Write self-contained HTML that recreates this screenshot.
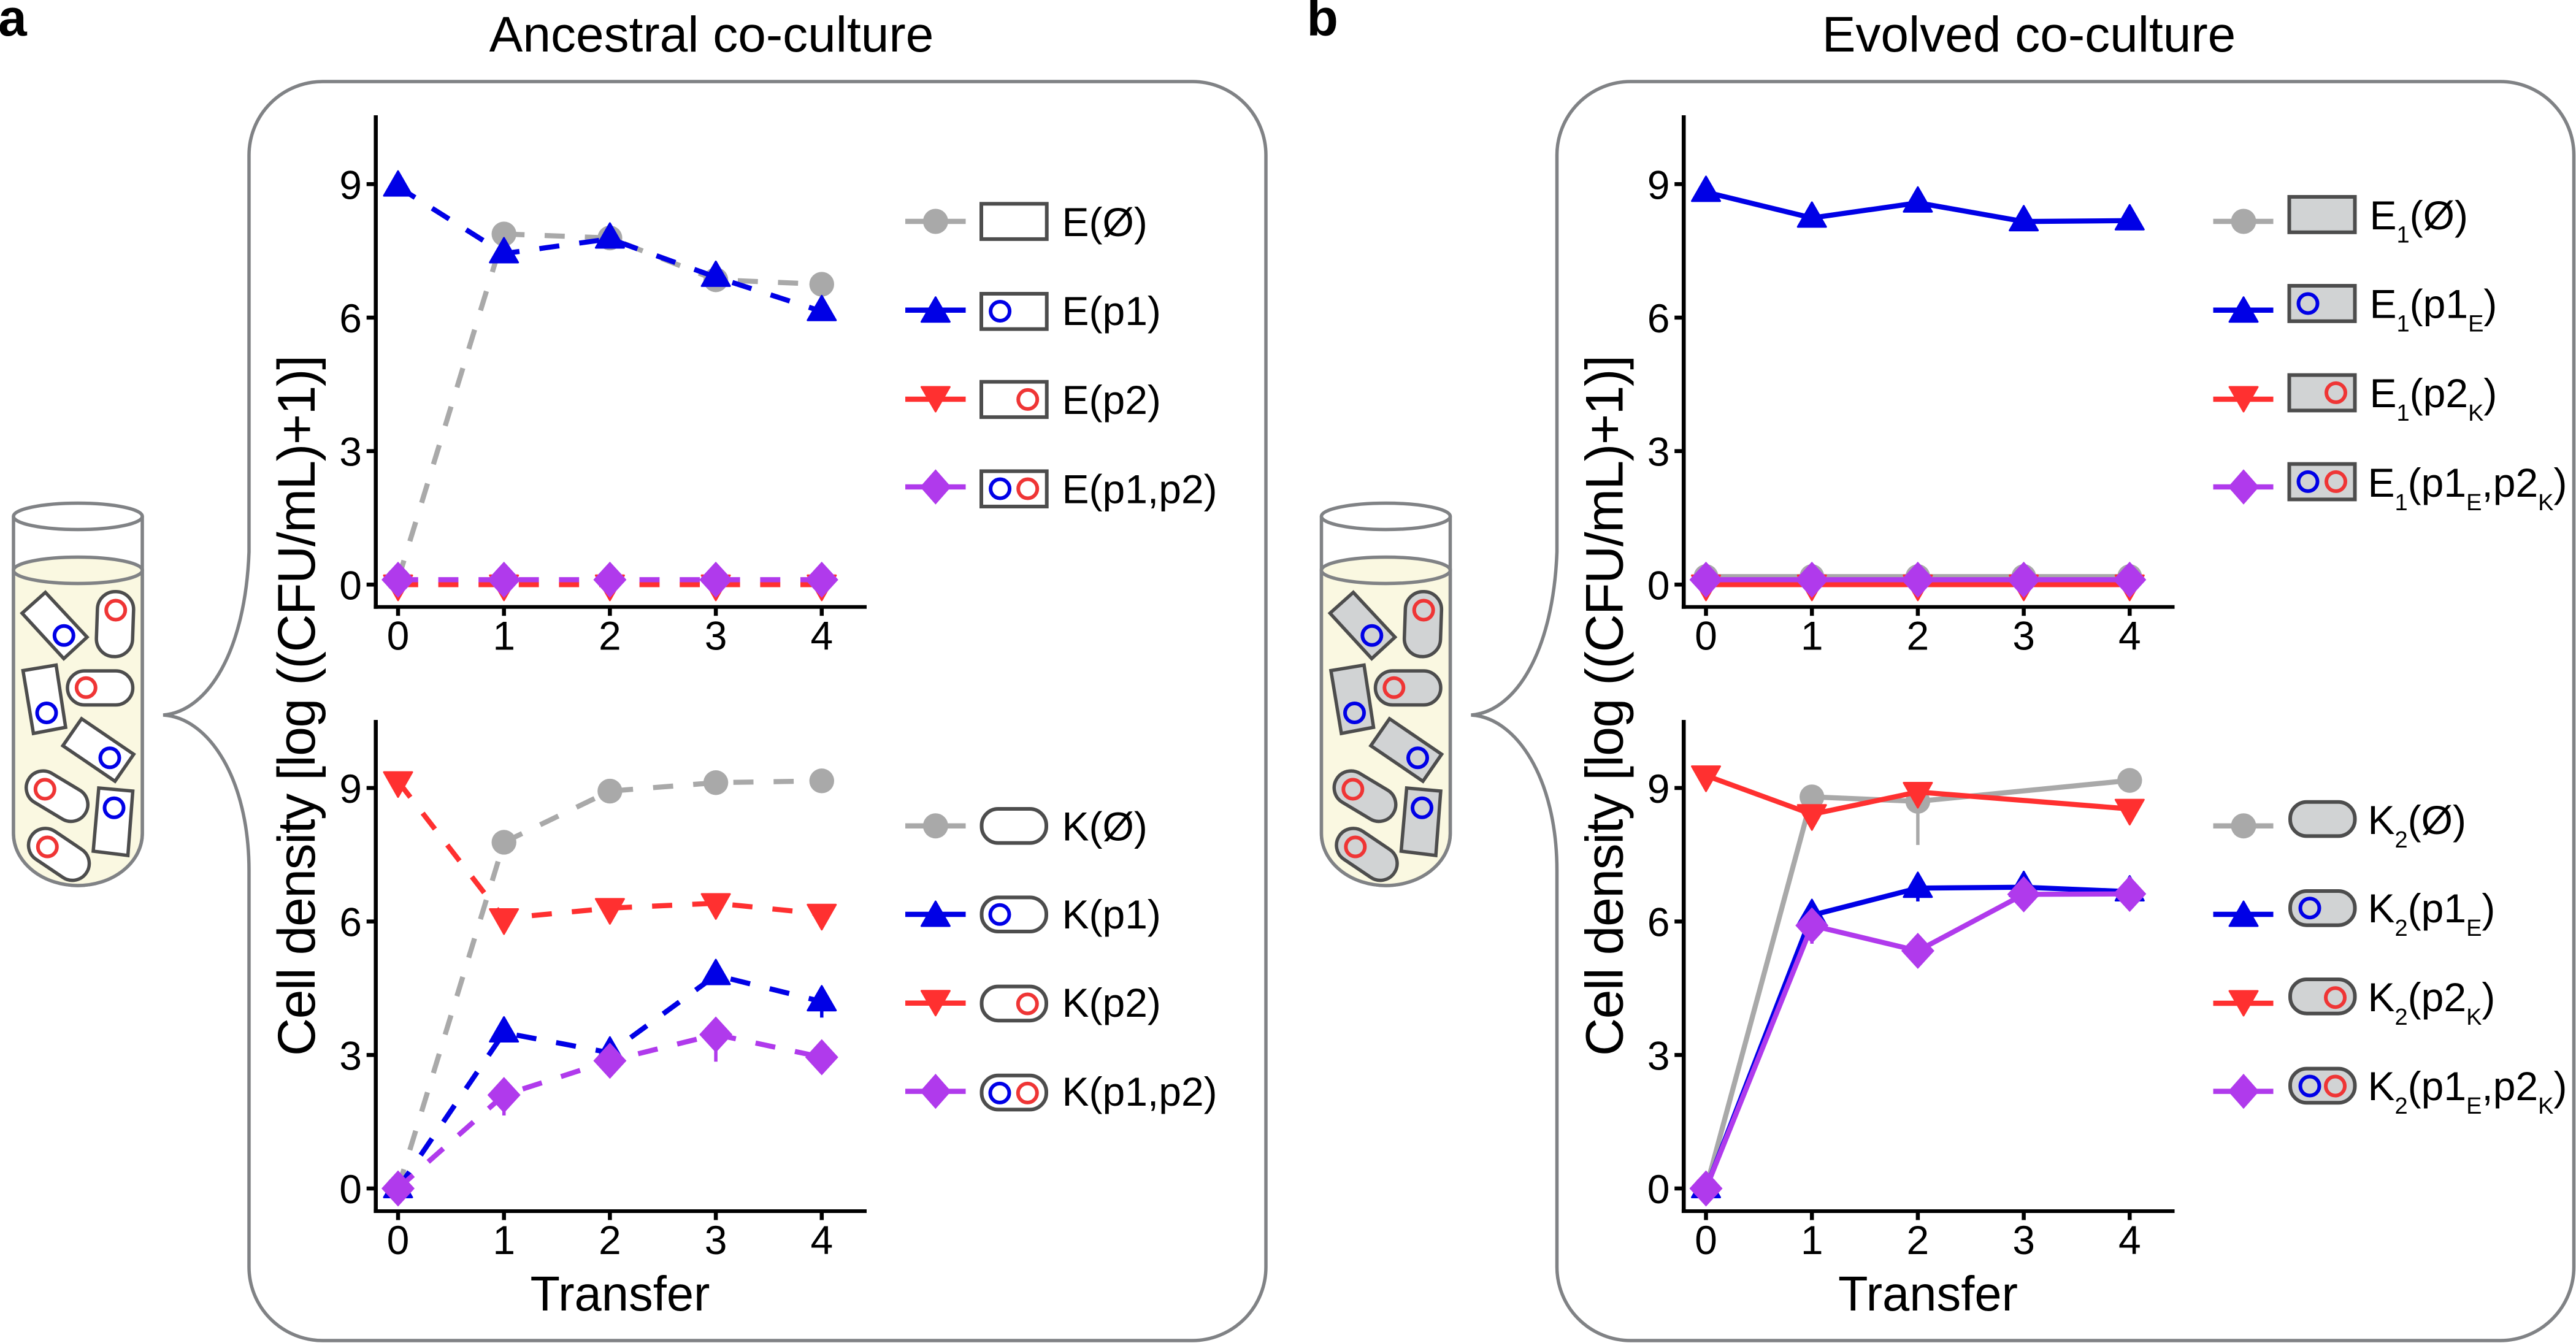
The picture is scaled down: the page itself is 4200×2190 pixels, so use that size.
<!DOCTYPE html>
<html lang="en">
<head>
<meta charset="utf-8">
<title>Ancestral and evolved co-culture cell density</title>
<style>
html,body{margin:0;padding:0;background:#fff;width:4200px;height:2190px;overflow:hidden}
svg{display:block}
text{font-family:"Liberation Sans",Arial,sans-serif;fill:#000}
.lg{font-size:66px}
.sub{font-size:38px}
.title{font-size:82px;text-anchor:middle}
.axt{font-size:79.5px}
.pl{font-weight:bold;font-size:84px}
.panel{fill:none;stroke:#808285;stroke-width:5.5}
.glass{stroke:#808285;stroke-width:5.5}
.c{fill:#fff;stroke:#4d4d4d;stroke-width:5.5}
.b2 .c{fill:#d1d3d4}
.bl{fill:none;stroke:#0000e6;stroke-width:6}
.rd{fill:none;stroke:#ef3535;stroke-width:6}
.box{stroke:#4d4d4d;stroke-width:6;fill:#fff}
.b2 .box{fill:#d1d3d4}
.gr-l{stroke:#a9a9a9;stroke-width:8.5}
.bu-l{stroke:#0000e6;stroke-width:8.5}
.re-l{stroke:#ff3030;stroke-width:8.5}
.pu-l{stroke:#b03aec;stroke-width:8.5}
.gr-m{fill:#a9a9a9}
.bu-m{fill:#0000e6;stroke:#0000e6;stroke-width:3;stroke-linejoin:round}
.re-m{fill:#ff3030;stroke:#ff3030;stroke-width:3;stroke-linejoin:round}
.pu-m{fill:#b03aec}
</style>
</head>
<body>
<svg xmlns="http://www.w3.org/2000/svg" width="4200" height="2190" viewBox="0 0 4200 2190">

<text class="pl" x="-3" y="58">a</text>
<text class="pl" x="2130.5" y="58">b</text>
<text class="title" x="1160" y="84">Ancestral co-culture</text>
<text class="title" x="3308" y="84">Evolved co-culture</text>

<!-- Panel A -->
<g>
  <path class="panel" d="M526,133 H1944 A120,120 0 0 1 2064,253 V2066 A120,120 0 0 1 1944,2186 H526 A120,120 0 0 1 406,2066 V1420 C406,1270 340,1170 266,1166 C340,1160 400,1060 406,900 V253 A120,120 0 0 1 526,133 Z"/>
  <g>
    <path d="M22,842 V1359 A105,85 0 0 0 232,1359 V842" fill="#fff" class="glass"/>
    <path d="M22,930 V1359 A105,85 0 0 0 232,1359 V930 Z" fill="#faf8e1" class="glass"/>
    <ellipse cx="127" cy="842" rx="105" ry="21.5" fill="#fff" class="glass"/>
    <ellipse cx="127" cy="930" rx="105" ry="21.5" fill="#faf8e1" class="glass"/>
    <polygon class="c" points="74,966 142,1039 104,1074 36,1000"/><circle class="bl" cx="104.3" cy="1036.3" r="15.5"/>
    <rect class="c" x="-29.5" y="-53" width="59" height="106" rx="29" transform="translate(187.5,1017.7) rotate(2)"/><circle class="rd" cx="188.7" cy="995" r="15.5"/>
    <polygon class="c" points="91.5,1084.5 107,1186 54.5,1196 37.5,1093.5"/><circle class="bl" cx="76" cy="1162.5" r="15.5"/>
    <rect class="c" x="110" y="1094" width="106.5" height="55.5" rx="28"/><circle class="rd" cx="140.3" cy="1121.3" r="15.5"/>
    <polygon class="c" points="133,1172 218,1230 187.5,1274 102.5,1216"/><circle class="bl" cx="179" cy="1235.8" r="15.5"/>
    <rect class="c" x="-54" y="-27.5" width="108" height="55" rx="27.5" transform="translate(93,1298.3) rotate(31)"/><circle class="rd" cx="73.3" cy="1287" r="15.5"/>
    <polygon class="c" points="161,1285 216.5,1290 208.5,1395 152,1388"/><circle class="bl" cx="186" cy="1317.3" r="15.5"/>
    <rect class="c" x="-54" y="-27.5" width="108" height="55" rx="27.5" transform="translate(96,1393.2) rotate(34)"/><circle class="rd" cx="77.3" cy="1381" r="15.5"/>
  </g>
  <text class="axt" transform="translate(513,1722) rotate(-90)" textLength="1143" lengthAdjust="spacing" style="font-size:86px">Cell density [log ((CFU/mL)+1)]</text>
  <text class="axt" x="1011" y="2137" text-anchor="middle">Transfer</text>
  <g id="chart-a-top"></g>
  <g id="chart-a-bottom"></g>

  <g>
    <g>
      <line class="gr-l" x1="1476" x2="1574.5" y1="361" y2="361"/><circle class="gr-m" cx="1525.4" cy="361" r="20.5"/>
      <rect class="box" x="1600" y="332.3" width="106.7" height="57.6"/>
      <text class="lg" x="1731.5" y="385">E(Ø)</text>
    </g>
    <g>
      <line class="bu-l" x1="1476" x2="1574.5" y1="505.7" y2="505.7"/><polygon class="bu-m" transform="translate(1525.4,505.7)" points="0,-21 23,19 -23,19"/>
      <rect class="box" x="1600" y="479" width="106.7" height="57.6"/><circle class="bl" cx="1630.6" cy="507.5" r="15.5"/>
      <text class="lg" x="1731.5" y="530">E(p1)</text>
    </g>
    <g>
      <line class="re-l" x1="1476" x2="1574.5" y1="651" y2="651"/><polygon class="re-m" transform="translate(1525.4,651)" points="0,20 23,-20 -23,-20"/>
      <rect class="box" x="1600" y="622.6" width="106.7" height="57.6"/><circle class="rd" cx="1675.7" cy="651.4" r="15.5"/>
      <text class="lg" x="1731.5" y="675">E(p2)</text>
    </g>
    <g>
      <line class="pu-l" x1="1476" x2="1574.5" y1="794" y2="794"/><polygon class="pu-m" transform="translate(1525.4,794)" points="0,-28.7 25.3,0 0,28.7 -25.3,0"/>
      <rect class="box" x="1600" y="768.4" width="106.7" height="57.6"/><circle class="bl" cx="1630.6" cy="797" r="15.5"/><circle class="rd" cx="1675.7" cy="797" r="15.5"/>
      <text class="lg" x="1731.5" y="820.7">E(p1,p2)</text>
    </g>
  </g>

  <g>
    <g>
      <line class="gr-l" x1="1476" x2="1574.5" y1="1346.7" y2="1346.7"/><circle class="gr-m" cx="1525.4" cy="1346.7" r="20.5"/>
      <rect class="box" x="1600.5" y="1319" width="105.5" height="55.6" rx="27"/>
      <text class="lg" x="1731.5" y="1370.6">K(Ø)</text>
    </g>
    <g>
      <line class="bu-l" x1="1476" x2="1574.5" y1="1491" y2="1491"/><polygon class="bu-m" transform="translate(1525.4,1491)" points="0,-21 23,19 -23,19"/>
      <rect class="box" x="1600.5" y="1463.4" width="105.5" height="55.6" rx="27"/><circle class="bl" cx="1630" cy="1491.3" r="15.5"/>
      <text class="lg" x="1731.5" y="1514">K(p1)</text>
    </g>
    <g>
      <line class="re-l" x1="1476" x2="1574.5" y1="1635.8" y2="1635.8"/><polygon class="re-m" transform="translate(1525.4,1635.8)" points="0,20 23,-20 -23,-20"/>
      <rect class="box" x="1600.5" y="1608.6" width="105.5" height="55.6" rx="27"/><circle class="rd" cx="1675.3" cy="1637" r="15.5"/>
      <text class="lg" x="1731.5" y="1658">K(p2)</text>
    </g>
    <g>
      <line class="pu-l" x1="1476" x2="1574.5" y1="1779.6" y2="1779.6"/><polygon class="pu-m" transform="translate(1525.4,1779.6)" points="0,-28.7 25.3,0 0,28.7 -25.3,0"/>
      <rect class="box" x="1600.5" y="1753.8" width="105.5" height="55.6" rx="27"/><circle class="bl" cx="1630" cy="1782.4" r="15.5"/><circle class="rd" cx="1675.3" cy="1782.4" r="15.5"/>
      <text class="lg" x="1731.5" y="1803">K(p1,p2)</text>
    </g>
  </g>
</g>

<!-- Panel B -->
<g class="b2">
  <g transform="translate(2132.5,0)">
    <path class="panel" d="M526,133 H1944 A120,120 0 0 1 2064,253 V2066 A120,120 0 0 1 1944,2186 H526 A120,120 0 0 1 406,2066 V1420 C406,1270 340,1170 266,1166 C340,1160 400,1060 406,900 V253 A120,120 0 0 1 526,133 Z"/>
    <g>
      <path d="M22,842 V1359 A105,85 0 0 0 232,1359 V842" fill="#fff" class="glass"/>
      <path d="M22,930 V1359 A105,85 0 0 0 232,1359 V930 Z" fill="#faf8e1" class="glass"/>
      <ellipse cx="127" cy="842" rx="105" ry="21.5" fill="#fff" class="glass"/>
      <ellipse cx="127" cy="930" rx="105" ry="21.5" fill="#faf8e1" class="glass"/>
      <polygon class="c" points="74,966 142,1039 104,1074 36,1000"/><circle class="bl" cx="104.3" cy="1036.3" r="15.5"/>
      <rect class="c" x="-29.5" y="-53" width="59" height="106" rx="29" transform="translate(187.5,1017.7) rotate(2)"/><circle class="rd" cx="188.7" cy="995" r="15.5"/>
      <polygon class="c" points="91.5,1084.5 107,1186 54.5,1196 37.5,1093.5"/><circle class="bl" cx="76" cy="1162.5" r="15.5"/>
      <rect class="c" x="110" y="1094" width="106.5" height="55.5" rx="28"/><circle class="rd" cx="140.3" cy="1121.3" r="15.5"/>
      <polygon class="c" points="133,1172 218,1230 187.5,1274 102.5,1216"/><circle class="bl" cx="179" cy="1235.8" r="15.5"/>
      <rect class="c" x="-54" y="-27.5" width="108" height="55" rx="27.5" transform="translate(93,1298.3) rotate(31)"/><circle class="rd" cx="73.3" cy="1287" r="15.5"/>
      <polygon class="c" points="161,1285 216.5,1290 208.5,1395 152,1388"/><circle class="bl" cx="186" cy="1317.3" r="15.5"/>
      <rect class="c" x="-54" y="-27.5" width="108" height="55" rx="27.5" transform="translate(96,1393.2) rotate(34)"/><circle class="rd" cx="77.3" cy="1381" r="15.5"/>
    </g>
    <text class="axt" transform="translate(513,1722) rotate(-90)" textLength="1143" lengthAdjust="spacing" style="font-size:86px">Cell density [log ((CFU/mL)+1)]</text>
    <text class="axt" x="1011" y="2137" text-anchor="middle">Transfer</text>
    <g id="chart-b-top"></g>
    <g id="chart-b-bottom"></g>
  </g>

  <g>
    <g>
      <line class="gr-l" x1="3608.5" x2="3706.5" y1="361" y2="361"/><circle class="gr-m" cx="3658" cy="361" r="20.5"/>
      <rect class="box" x="3732.5" y="321" width="107" height="57.8"/>
      <text class="lg" x="3863.5" y="374">E<tspan class="sub" dy="21.7">1</tspan><tspan dy="-21.7">(Ø)</tspan></text>
    </g>
    <g>
      <line class="bu-l" x1="3608.5" x2="3706.5" y1="505.7" y2="505.7"/><polygon class="bu-m" transform="translate(3658,505.7)" points="0,-21 23,19 -23,19"/>
      <rect class="box" x="3732.5" y="466" width="107" height="57.8"/><circle class="bl" cx="3763" cy="495" r="15.5"/>
      <text class="lg" x="3863.5" y="518.6">E<tspan class="sub" dy="22">1</tspan><tspan dy="-22">(p1</tspan><tspan class="sub" dy="22">E</tspan><tspan dy="-22">)</tspan></text>
    </g>
    <g>
      <line class="re-l" x1="3608.5" x2="3706.5" y1="651" y2="651"/><polygon class="re-m" transform="translate(3658,651)" points="0,20 23,-20 -23,-20"/>
      <rect class="box" x="3732.5" y="611.6" width="107" height="57.8"/><circle class="rd" cx="3808.5" cy="640.4" r="15.5"/>
      <text class="lg" x="3863.5" y="664">E<tspan class="sub" dy="22">1</tspan><tspan dy="-22">(p2</tspan><tspan class="sub" dy="22">K</tspan><tspan dy="-22">)</tspan></text>
    </g>
    <g>
      <line class="pu-l" x1="3608.5" x2="3706.5" y1="794" y2="794"/><polygon class="pu-m" transform="translate(3658,794)" points="0,-28.7 25.3,0 0,28.7 -25.3,0"/>
      <rect class="box" x="3732.5" y="756.6" width="107" height="57.8"/><circle class="bl" cx="3763" cy="785.4" r="15.5"/><circle class="rd" cx="3808.5" cy="785.4" r="15.5"/>
      <text class="lg" x="3860.5" y="810">E<tspan class="sub" dy="22">1</tspan><tspan dy="-22">(p1</tspan><tspan class="sub" dy="22">E</tspan><tspan dy="-22">,p2</tspan><tspan class="sub" dy="22">K</tspan><tspan dy="-22">)</tspan></text>
    </g>
  </g>

  <g>
    <g>
      <line class="gr-l" x1="3608.5" x2="3706.5" y1="1346.7" y2="1346.7"/><circle class="gr-m" cx="3658" cy="1346.7" r="20.5"/>
      <rect class="box" x="3734" y="1307.7" width="105.5" height="55.7" rx="27"/>
      <text class="lg" x="3860.5" y="1360">K<tspan class="sub" dy="22">2</tspan><tspan dy="-22">(Ø)</tspan></text>
    </g>
    <g>
      <line class="bu-l" x1="3608.5" x2="3706.5" y1="1491" y2="1491"/><polygon class="bu-m" transform="translate(3658,1491)" points="0,-21 23,19 -23,19"/>
      <rect class="box" x="3734" y="1453" width="105.5" height="55.7" rx="27"/><circle class="bl" cx="3766" cy="1480.7" r="15.5"/>
      <text class="lg" x="3860.5" y="1504">K<tspan class="sub" dy="22">2</tspan><tspan dy="-22">(p1</tspan><tspan class="sub" dy="22">E</tspan><tspan dy="-22">)</tspan></text>
    </g>
    <g>
      <line class="re-l" x1="3608.5" x2="3706.5" y1="1636" y2="1636"/><polygon class="re-m" transform="translate(3658,1636)" points="0,20 23,-20 -23,-20"/>
      <rect class="box" x="3734" y="1597" width="105.5" height="55.7" rx="27"/><circle class="rd" cx="3807.5" cy="1626.7" r="15.5"/>
      <text class="lg" x="3860.5" y="1649">K<tspan class="sub" dy="22">2</tspan><tspan dy="-22">(p2</tspan><tspan class="sub" dy="22">K</tspan><tspan dy="-22">)</tspan></text>
    </g>
    <g>
      <line class="pu-l" x1="3608.5" x2="3706.5" y1="1779.6" y2="1779.6"/><polygon class="pu-m" transform="translate(3658,1779.6)" points="0,-28.7 25.3,0 0,28.7 -25.3,0"/>
      <rect class="box" x="3734" y="1742.6" width="105.5" height="55.7" rx="27"/><circle class="bl" cx="3766" cy="1771" r="15.5"/><circle class="rd" cx="3807.5" cy="1771" r="15.5"/>
      <text class="lg" x="3860.5" y="1794">K<tspan class="sub" dy="22">2</tspan><tspan dy="-22">(p1</tspan><tspan class="sub" dy="22">E</tspan><tspan dy="-22">,p2</tspan><tspan class="sub" dy="22">K</tspan><tspan dy="-22">)</tspan></text>
    </g>
  </g>
</g>

<script>
// Shared axes
const transfers = [0, 1, 2, 3, 4];
const yTickValues = [0, 3, 6, 9];
const xTickLabels = ['0', '1', '2', '3', '4'];
const yTickLabels = ['0', '3', '6', '9'];

// Ancestral co-culture, E strains
const ancEEmpty = [0.11, 7.88, 7.79, 6.85, 6.75];
const ancEP1 = [8.94, 7.44, 7.77, 6.91, 6.14];
const ancEP2 = [0, 0, 0, 0, 0];
const ancEP1P2 = [0.11, 0.11, 0.11, 0.11, 0.11];

// Ancestral co-culture, K strains
const ancKEmpty = [0, 7.78, 8.93, 9.12, 9.16];
const ancKP1 = [0, 3.5, 3.05, 4.79, 4.2];
const ancKP1Low = [null, null, null, null, 3.84];
const ancKP2 = [9.15, 6.07, 6.3, 6.41, 6.17];
const ancKP1P2 = [0, 2.1, 2.87, 3.46, 2.95];
const ancKP1P2Low = [null, 1.64, null, 2.85, null];

// Evolved co-culture, E strains
const evoEEmpty = [0.18, 0.18, 0.18, 0.18, 0.18];
const evoEP1 = [8.82, 8.24, 8.58, 8.16, 8.18];
const evoEP2 = [0, 0, 0, 0, 0];
const evoEP1P2 = [0.11, 0.11, 0.11, 0.11, 0.11];

// Evolved co-culture, K strains (transfer 3 absent for empty and p2 series)
const evoKEmpty = [0, 8.8, 8.7, null, 9.17];
const evoKEmptyLow = [null, null, 7.72, null, null];
const evoKP1 = [0, 6.14, 6.75, 6.77, 6.67];
const evoKP1Low = [null, null, 6.45, null, 6.45];
const evoKP2 = [9.28, 8.41, 8.91, null, 8.53];
const evoKP1P2 = [0, 5.91, 5.34, 6.61, 6.62];
const evoKP1P2Low = [null, 5.5, null, null, null];

const SVG_NS = 'http://www.w3.org/2000/svg';
const COLORS = { gray: '#a9a9a9', blue: '#0000e6', red: '#ff3030', purple: '#b03aec' };

function make(parent, tag, attrs) {
  const node = document.createElementNS(SVG_NS, tag);
  for (const key in attrs) node.setAttribute(key, attrs[key]);
  parent.appendChild(node);
  return node;
}

function drawMarker(parent, shape, cx, cy, color) {
  let node;
  const move = 'translate(' + cx + ',' + cy + ')';
  if (shape === 'circle') {
    node = make(parent, 'circle', { cx: cx, cy: cy, r: 20.2, fill: color });
  } else if (shape === 'up') {
    node = make(parent, 'polygon', { transform: move, points: '0,-25.5 23,14.5 -23,14.5', fill: color, stroke: color, 'stroke-width': 3, 'stroke-linejoin': 'round' });
  } else if (shape === 'down') {
    node = make(parent, 'polygon', { transform: move, points: '0,25.5 23,-15 -23,-15', fill: color, stroke: color, 'stroke-width': 3, 'stroke-linejoin': 'round' });
  } else {
    node = make(parent, 'polygon', { transform: move, points: '0,-29.5 27,0 0,29.5 -27,0', fill: color });
  }
  
  
}

function drawChart(id, y0, axisTop, axisBottom, dashed, series) {
  const root = document.getElementById(id);
  const xScale = function (t) { return 649 + t * 172.7; };
  const yScale = function (v) { return y0 - v * 72.56; };

  const yAxis = make(root, 'line', { x1: 612.7, x2: 612.7, y1: axisTop, y2: axisBottom + 3, stroke: '#000', 'stroke-width': 6.5 });
  
  
  const xAxis = make(root, 'line', { x1: 609.4, x2: 1413, y1: axisBottom, y2: axisBottom, stroke: '#000', 'stroke-width': 6 });
  
  

  yTickValues.forEach(function (v, i) {
    const tick = make(root, 'line', { x1: 597.7, x2: 612, y1: yScale(v), y2: yScale(v), stroke: '#000', 'stroke-width': 6.5 });
    
    
    const label = make(root, 'text', { x: 590, y: yScale(v) + 24, 'text-anchor': 'end', 'font-size': 66 });
    
    
    label.textContent = yTickLabels[i];
  });
  transfers.forEach(function (t, i) {
    const tick = make(root, 'line', { x1: xScale(t), x2: xScale(t), y1: axisBottom, y2: axisBottom + 14.5, stroke: '#000', 'stroke-width': 6.5 });
    
    
    const label = make(root, 'text', { x: xScale(t), y: axisBottom + 70, 'text-anchor': 'middle', 'font-size': 66 });
    
    
    label.textContent = xTickLabels[i];
  });

  series.forEach(function (s) {
    const group = make(root, 'g', {});
    
    
    const pts = [];
    transfers.forEach(function (t, i) {
      if (s.values[i] !== null) pts.push(xScale(t) + ',' + yScale(s.values[i]));
    });
    const attrs = { points: pts.join(' '), fill: 'none', stroke: s.color, 'stroke-width': 8.3 };
    if (dashed) attrs['stroke-dasharray'] = '32.8 32.8';
    const line = make(group, 'polyline', attrs);
    
    
    if (s.low) {
      transfers.forEach(function (t, i) {
        if (s.low[i] !== null) {
          const bar = make(group, 'line', { x1: xScale(t), x2: xScale(t), y1: yScale(s.values[i]), y2: yScale(s.low[i]), stroke: s.color, 'stroke-width': 5.5 });
          
          
        }
      });
    }
    transfers.forEach(function (t, i) {
      if (s.values[i] !== null) drawMarker(group, s.shape, xScale(t), yScale(s.values[i]), s.color);
    });
  });
}

drawChart('chart-a-top', 953.3, 188, 989.7, true, [
  { name: 'e-empty', color: COLORS.gray, shape: 'circle', values: ancEEmpty },
  { name: 'e-p1', color: COLORS.blue, shape: 'up', values: ancEP1 },
  { name: 'e-p2', color: COLORS.red, shape: 'down', values: ancEP2 },
  { name: 'e-p1-p2', color: COLORS.purple, shape: 'diamond', values: ancEP1P2 }
]);
drawChart('chart-a-bottom', 1938, 1174, 1975, true, [
  { name: 'k-empty', color: COLORS.gray, shape: 'circle', values: ancKEmpty },
  { name: 'k-p1', color: COLORS.blue, shape: 'up', values: ancKP1, low: ancKP1Low },
  { name: 'k-p2', color: COLORS.red, shape: 'down', values: ancKP2 },
  { name: 'k-p1-p2', color: COLORS.purple, shape: 'diamond', values: ancKP1P2, low: ancKP1P2Low }
]);
drawChart('chart-b-top', 953.3, 188, 989.7, false, [
  { name: 'e1-empty', color: COLORS.gray, shape: 'circle', values: evoEEmpty },
  { name: 'e1-p1e', color: COLORS.blue, shape: 'up', values: evoEP1 },
  { name: 'e1-p2k', color: COLORS.red, shape: 'down', values: evoEP2 },
  { name: 'e1-p1e-p2k', color: COLORS.purple, shape: 'diamond', values: evoEP1P2 }
]);
drawChart('chart-b-bottom', 1938, 1174, 1975, false, [
  { name: 'k2-empty', color: COLORS.gray, shape: 'circle', values: evoKEmpty, low: evoKEmptyLow },
  { name: 'k2-p1e', color: COLORS.blue, shape: 'up', values: evoKP1, low: evoKP1Low },
  { name: 'k2-p2k', color: COLORS.red, shape: 'down', values: evoKP2 },
  { name: 'k2-p1e-p2k', color: COLORS.purple, shape: 'diamond', values: evoKP1P2, low: evoKP1P2Low }
]);
</script>
</svg>
</body>
</html>
